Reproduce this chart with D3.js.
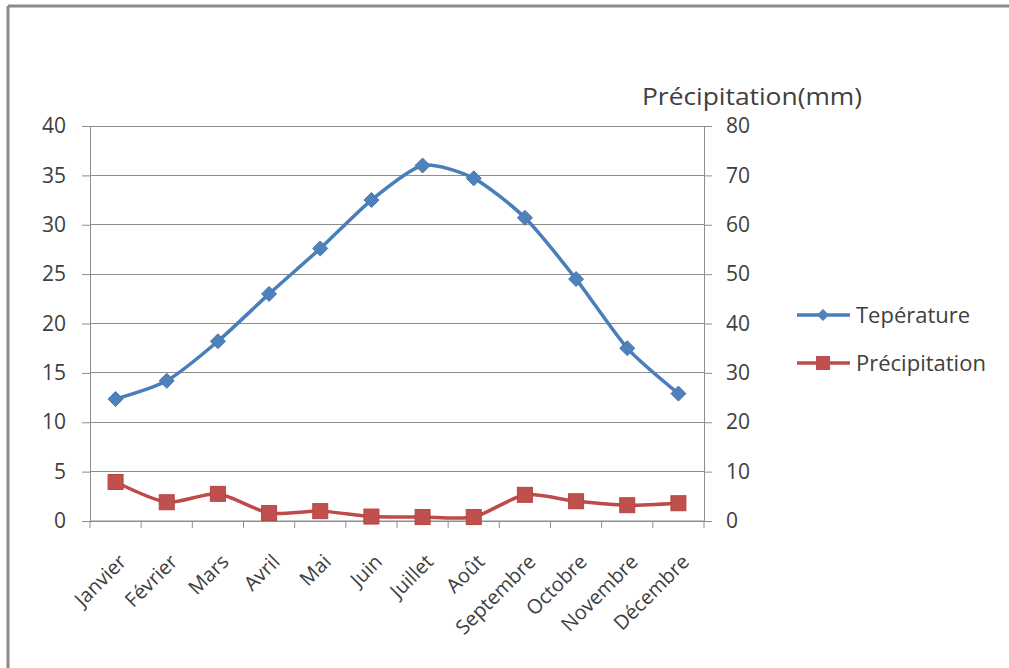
<!DOCTYPE html>
<html>
<head>
<meta charset="utf-8">
<script src="https://cdn.jsdelivr.net/npm/d3@7"></script>
<style>
  html, body { margin: 0; padding: 0; background: #fff; }
  svg { display: block; }
  text { font-family: "Open Sans", "Liberation Sans", sans-serif; fill: #404040; }
</style>
</head>
<body>
<script>
// Monthly climate data
const months = ["Janvier", "Février", "Mars", "Avril", "Mai", "Juin", "Juillet", "Août", "Septembre", "Octobre", "Novembre", "Décembre"];
const temperature = [12.35, 14.2, 18.2, 23.0, 27.6, 32.5, 36.0, 34.7, 30.7, 24.5, 17.5, 12.9];
const precipitation = [7.9, 3.8, 5.5, 1.6, 2.0, 0.9, 0.8, 0.8, 5.3, 4.0, 3.2, 3.6];
const leftTicks = [0, 5, 10, 15, 20, 25, 30, 35, 40];
const rightTicks = [0, 10, 20, 30, 40, 50, 60, 70, 80];
const seriesNames = ["Tepérature", "Précipitation"];
const rightTitle = "Précipitation(mm)";

const W = 1009, H = 668;
const plot = { left: 90, right: 704, top: 126, bottom: 521 };
const blue = "#4a7ebb", blueMark = "#4f81bd";
const red = "#be4b48", redMark = "#c0504d";
const gridColor = "#8e8e8e";

const svg = d3.select("body").append("svg").attr("width", W).attr("height", H);

// outer frame (top and left edges)
svg.append("line").attr("x1", 8).attr("x2", W).attr("y1", 6).attr("y2", 6)
  .attr("stroke", "#8a8a8a").attr("stroke-width", 3);
svg.append("line").attr("x1", 8).attr("x2", 8).attr("y1", 6).attr("y2", H)
  .attr("stroke", "#8a8a8a").attr("stroke-width", 3);

const x = d3.scaleBand().domain(months).range([plot.left, plot.right]);
const xc = d => x(d) + x.bandwidth() / 2;
const yL = d3.scaleLinear().domain([0, 40]).range([plot.bottom, plot.top]);
const yR = d3.scaleLinear().domain([0, 80]).range([plot.bottom, plot.top]);

// horizontal gridlines
svg.append("g").selectAll("line").data(leftTicks).join("line")
  .attr("x1", plot.left).attr("x2", plot.right)
  .attr("y1", d => yL(d)).attr("y2", d => yL(d))
  .attr("stroke", gridColor).attr("stroke-width", 1).attr("shape-rendering", "crispEdges");

// left axis
const gL = svg.append("g").attr("transform", `translate(${plot.left},0)`)
  .call(d3.axisLeft(yL).tickValues(leftTicks).tickSize(8).tickPadding(16));
gL.select(".domain").attr("stroke", gridColor);
gL.selectAll(".tick line").attr("stroke", gridColor);
gL.selectAll("text").style("font-size", "21px").attr("fill", "#404040");

// right axis
const gR = svg.append("g").attr("transform", `translate(${plot.right},0)`)
  .call(d3.axisRight(yR).tickValues(rightTicks).tickSize(8).tickPadding(14));
gR.select(".domain").attr("stroke", gridColor);
gR.selectAll(".tick line").attr("stroke", gridColor);
gR.selectAll("text").style("font-size", "21px").attr("fill", "#404040");

// bottom axis with boundary ticks between categories
const gB = svg.append("g").attr("transform", `translate(0,${plot.bottom})`);
gB.append("line").attr("x1", plot.left).attr("x2", plot.right).attr("y1", 0).attr("y2", 0)
  .attr("stroke", gridColor);
const bounds = months.map(m => x(m)).concat([plot.right]);
gB.selectAll("line.tk").data(bounds).join("line").attr("class", "tk")
  .attr("x1", d => d).attr("x2", d => d).attr("y1", 0).attr("y2", 7)
  .attr("stroke", gridColor);
gB.selectAll("text").data(months).join("text")
  .attr("transform", d => `translate(${xc(d) + 12},${42}) rotate(-45)`)
  .attr("text-anchor", "end")
  .style("font-size", "20px")
  .text(d => d);

// right axis title
svg.append("text").attr("x", 642).attr("y", 105)
  .attr("textLength", 220).attr("lengthAdjust", "spacingAndGlyphs")
  .style("font-size", "23px").text(rightTitle);

// series lines
const curve = d3.curveCardinal.tension(0.3);
const lineT = d3.line().x((d, i) => xc(months[i])).y(d => yL(d)).curve(curve);
const lineP = d3.line().x((d, i) => xc(months[i])).y(d => yR(d)).curve(curve);

svg.append("path").datum(precipitation).attr("d", lineP)
  .attr("fill", "none").attr("stroke", red).attr("stroke-width", 3.5);
svg.append("g").selectAll("rect").data(precipitation).join("rect")
  .attr("x", (d, i) => xc(months[i]) - 7.5).attr("y", d => yR(d) - 7.5)
  .attr("width", 15).attr("height", 15)
  .attr("fill", redMark).attr("stroke", "#b54542").attr("stroke-width", 1);

svg.append("path").datum(temperature).attr("d", lineT)
  .attr("fill", "none").attr("stroke", blue).attr("stroke-width", 3.5);
const diamond = s => `M0,${-s}L${s},0L0,${s}L${-s},0Z`;
svg.append("g").selectAll("path").data(temperature).join("path")
  .attr("transform", (d, i) => `translate(${xc(months[i])},${yL(d)})`)
  .attr("d", diamond(7.5))
  .attr("fill", blueMark).attr("stroke", "#4577b3").attr("stroke-width", 1);

// legend
const lg = svg.append("g");
const legendRows = [
  { name: seriesNames[0], color: blue, mark: blueMark, y: 315, shape: "diamond" },
  { name: seriesNames[1], color: red, mark: redMark, y: 363, shape: "square" }
];
legendRows.forEach(r => {
  lg.append("line").attr("x1", 797).attr("x2", 850).attr("y1", r.y).attr("y2", r.y)
    .attr("stroke", r.color).attr("stroke-width", 3.5);
  if (r.shape === "diamond") {
    lg.append("path").attr("transform", `translate(823,${r.y})`).attr("d", diamond(6)).attr("fill", r.mark);
  } else {
    lg.append("rect").attr("x", 816).attr("y", r.y - 7).attr("width", 14).attr("height", 14).attr("fill", r.mark);
  }
  lg.append("text").attr("x", 856).attr("y", r.y).attr("dy", "0.35em")
    .style("font-size", "22px").text(r.name);
});
</script>
</body>
</html>
